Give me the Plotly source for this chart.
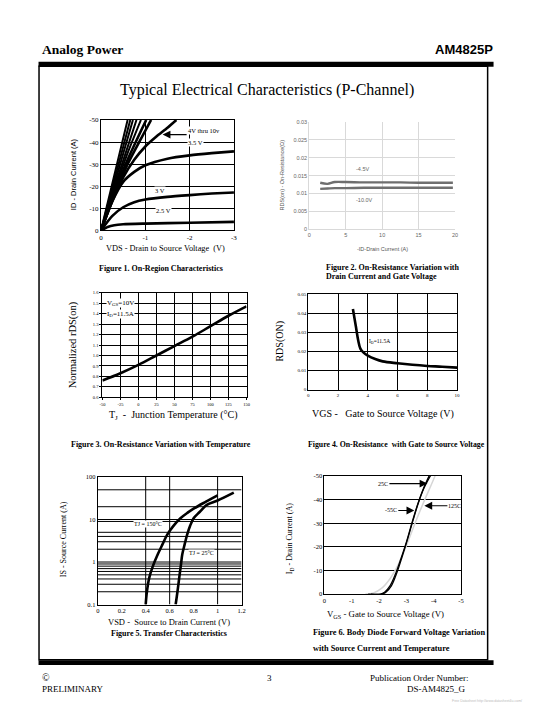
import plotly.graph_objects as go
import numpy as np

W, H = 540, 720
SERIF = "Liberation Serif"
SANS = "Liberation Sans"

# ---------------- DATA ----------------
# Fig 1: On-region characteristics (VDS in V, ID in A) per VGS
f1_curves = {
    "10V": ([0, -0.3, -0.6], [0, -25, -50]),
    "9V": ([0, -0.33, -0.66], [0, -25, -50]),
    "8V": ([0, -0.36, -0.72], [0, -25, -50]),
    "7V": ([0, -0.4, -0.8], [0, -25.5, -50]),
    "6V": ([0, -0.3, -0.6, -0.9], [0, -18, -35, -50]),
    "5V": ([0, -0.3, -0.6, -0.9, -1.02], [0, -17, -32, -45, -50]),
    "4.5V": ([0, -0.3, -0.6, -0.9, -1.13], [0, -16, -30, -41.5, -50]),
    "4V": ([0, -0.25, -0.5, -0.75, -1.0, -1.25, -1.5, -1.7], [0, -13, -24, -32, -38, -42.5, -46.5, -50]),
    "3.5V": ([0, -0.25, -0.5, -0.75, -1.0, -1.5, -2.0, -2.5, -3.0], [0, -13, -22, -26.5, -29.5, -32.5, -34, -35, -35.8]),
    "3V": ([0, -0.25, -0.5, -0.75, -1.0, -1.5, -2.0, -2.5, -3.0], [0, -6.5, -10.5, -12.8, -14, -15.2, -16, -16.7, -17.2]),
    "2.5V": ([0, -0.15, -0.3, -0.5, -1.0, -2.0, -3.0], [0, -1.6, -2.4, -2.8, -3.1, -3.5, -3.9]),
}
f1_xticks = [0, -1, -2, -3]
f1_xtext = ["0", "-1", "-2", "-3"]
f1_yticks = [0, -10, -20, -30, -40, -50]
f1_ytext = ["0", "-10", "-20", "-30", "-40", "-50"]

# Fig 2: RDS(on) vs -ID
f2_id = [1.5, 2.5, 3.5, 5, 7.5, 10, 12.5, 15, 17.5, 19.7]
f2_r45 = [0.0130, 0.0127, 0.0132, 0.0132, 0.0131, 0.0131, 0.0131, 0.0130, 0.0130, 0.0130]
f2_r10 = [0.0113, 0.0114, 0.0115, 0.0115, 0.0116, 0.0116, 0.0116, 0.0116, 0.0116, 0.0116]
f2_xticks = [0, 5, 10, 15, 20]
f2_yticks = [0, 0.005, 0.01, 0.015, 0.02, 0.025, 0.03]
f2_ytext = ["0", "0.005", "0.01", "0.015", "0.02", "0.025", "0.03"]

# Fig 3: normalized rDS(on) vs TJ
f3_t = [-50, -25, 0, 25, 50, 75, 100, 125, 150]
f3_r = [0.76, 0.83, 0.91, 1.0, 1.09, 1.18, 1.28, 1.38, 1.47]
f3_xticks = [-50, -25, 0, 25, 50, 75, 100, 125, 150]
f3_yticks = [0.6, 0.7, 0.8, 0.9, 1.0, 1.1, 1.2, 1.3, 1.4, 1.5, 1.6]

# Fig 4: RDS(ON) vs VGS
f4_vgs = [3.0, 3.2, 3.35, 3.5, 3.7, 4.0, 4.5, 5.0, 6.0, 7.0, 8.0, 9.0, 10.0]
f4_r = [0.0422, 0.033, 0.026, 0.0215, 0.0195, 0.0178, 0.0160, 0.0148, 0.0138, 0.0130, 0.0124, 0.0120, 0.0115]
f4_xticks = [0, 2, 4, 6, 8, 10]
f4_yticks = [0, 0.01, 0.02, 0.03, 0.04, 0.05]

# Fig 5: IS vs VSD (log)
f5_v150 = [0.40, 0.41, 0.43, 0.46, 0.50, 0.54, 0.58, 0.63, 0.69, 0.75, 0.80, 0.90, 1.0]
f5_i150 = [0.1, 0.2, 0.43, 0.8, 1.5, 2.6, 4.4, 7.0, 10.7, 14.5, 18, 26, 37]
f5_v25 = [0.65, 0.665, 0.68, 0.695, 0.705, 0.725, 0.746, 0.77, 0.80, 0.85, 0.91, 1.0, 1.135]
f5_i25 = [0.1, 0.2, 0.43, 0.9, 1.5, 2.6, 4.4, 7.0, 10.7, 15, 22, 28, 43]
f5_vgrid = [0.4, 0.6, 1.0]
f5_hgrid = [0.2, 0.3, 0.4, 0.5, 0.6, 0.7, 0.8, 0.9, 1, 2, 3, 4, 5, 9, 10, 20, 50]
f5_xticks = [0, 0.2, 0.4, 0.6, 0.8, 1.0, 1.2]
f5_xtext = ["0", "0.2", "0.4", "0.6", "0.8", "1", "1.2"]
f5_yticks = [0.1, 1, 10, 100]
f5_ytext = ["0.1", "1", "10", "100"]

# Fig 6: ID vs VGS
f6_v25 = [-1.6, -2.05, -2.2, -2.4, -2.6, -2.8, -3.0, -3.2, -3.4, -3.6, -3.85]
f6_i25 = [0, 0, -0.8, -3.5, -8.5, -15, -22, -30, -37.5, -44, -50.5]
f6_vm55 = [-1.7, -2.1, -2.25, -2.45, -2.65, -2.85, -3.05, -3.25, -3.45, -3.65, -3.9]
f6_im55 = [0, 0, -0.8, -3.5, -9, -16, -23.5, -31.5, -39, -45, -50.5]
f6_v125 = [-1.5, -1.8, -2.1, -2.4, -2.7, -3.0, -3.3, -3.6, -3.9, -4.05]
f6_i125 = [0, -0.5, -2.5, -6.5, -12.5, -20.5, -29.5, -38, -46, -50]
f6_xticks = [0, -1, -2, -3, -4, -5]
f6_xtext = ["0", "-1", "-2", "-3", "-4", "-5"]
f6_yticks = [0, -10, -20, -30, -40, -50]
f6_ytext = ["0", "-10", "-20", "-30", "-40", "-50"]

# ---------------- HELPERS ----------------
def px(x):
    return x / W

def py(y):
    return 1 - y / H

def dom(x0, x1, y0, y1):
    return [px(x0), px(x1)], [py(y1), py(y0)]

fig = go.Figure()
annots = []
shapes = []

def txt(x, y, s, size=8, font=SERIF, color="black", xanchor="center", yanchor="middle", angle=0, bg=None, bold=False):
    d = dict(x=px(x), y=py(y), xref="paper", yref="paper", text=("<b>%s</b>" % s if bold else s),
             showarrow=False, xanchor=xanchor, yanchor=yanchor, textangle=angle,
             font=dict(family=font, size=size, color=color), borderpad=0)
    if bg:
        d["bgcolor"] = bg
    annots.append(d)

def arrow_label(x, y, xr, yr, s, ax, ay=0, size=6, xanchor="center", yanchor="middle", bg=None):
    d = dict(x=x, y=y, xref=xr, yref=yr, text=s, showarrow=True, ax=ax, ay=ay,
             xanchor=xanchor, yanchor=yanchor, arrowhead=2, arrowsize=1.3, arrowwidth=1.2,
             arrowcolor="black", standoff=0, startstandoff=0, borderpad=0,
             font=dict(family=SERIF, size=size, color="black"))
    if bg:
        d["bgcolor"] = bg
    annots.append(d)

def axis(domain, rng, tickvals, ticktext=None, size=7, font=SERIF, grid=True, gridcolor="black",
         line=True, linecolor="black", mirror=True, anchor=None, typ="linear", tickcolor="black", ticklen=0):
    d = dict(domain=domain, range=rng, tickvals=tickvals, showgrid=grid, gridcolor=gridcolor, gridwidth=1,
             zeroline=False, showline=line, linecolor=linecolor, linewidth=1, mirror=mirror,
             tickfont=dict(family=font, size=size, color=tickcolor), ticks="outside" if ticklen else "",
             ticklen=ticklen, tickcolor=linecolor, fixedrange=True, type=typ, anchor=anchor)
    if ticktext is not None:
        d["ticktext"] = ticktext
    return d

CAP = 8

# ---------------- FIG 1 ----------------
xd, yd = dom(99.3, 234, 117.3, 229)
lay = {}
lay["xaxis"] = axis(xd, [0, -3], f1_xticks, f1_xtext, anchor="y")
lay["yaxis"] = axis(yd, [0, -50], f1_yticks, f1_ytext, anchor="x")
for name, (xs, ys) in f1_curves.items():
    wd = 2.0 if name in ("10V", "9V", "8V", "7V", "6V") else 2.6
    fig.add_trace(go.Scatter(x=xs, y=ys, mode="lines", line=dict(color="black", width=wd, shape="spline", smoothing=0.6),
                             xaxis="x", yaxis="y", showlegend=False, cliponaxis=True))
arrow_label(-1.39, -43.4, "x", "y", "4V thru 10v", ax=24, size=6.5, xanchor="left", yanchor="bottom", bg="white")
txt(186, 140, "3.5 V", size=6.5, xanchor="left", bg="white")
txt(159, 188.5, "3 V", size=6.5, bg="white")
txt(163, 209, "2.5 V", size=6.5, bg="white")
txt(71, 172, "ID - Drain Current (A)", size=7.5, font=SANS, angle=-90)
txt(165, 247, "VDS - Drain to Source Voltage  (V)", size=8.3)
txt(160, 267, "Figure 1. On-Region Characteristics", size=CAP, bold=True)

# ---------------- FIG 2 ----------------
xd, yd = dom(310.3, 458, 119, 228)
G = "#d9d9d9"
lay["xaxis2"] = axis(xd, [0, 20], f2_xticks, [str(v) for v in f2_xticks], size=5.5, font=SANS, gridcolor=G,
                     linecolor=G, mirror=False, anchor="y2", tickcolor="#666666")
lay["yaxis2"] = axis(yd, [0, 0.03], f2_yticks, f2_ytext, size=5.5, font=SANS, gridcolor=G,
                     linecolor=G, mirror=False, anchor="x2", tickcolor="#666666")
for ys in (f2_r45, f2_r10):
    fig.add_trace(go.Scatter(x=f2_id, y=ys, mode="lines", line=dict(color="#6e6e6e", width=2.4, shape="spline"),
                             xaxis="x2", yaxis="y2", showlegend=False))
txt(364, 166.5, "-4.5V", size=5.5, font=SANS, color="#666666")
txt(366, 198, "-10.0V", size=5.5, font=SANS, color="#666666")
txt(283, 173, "RDS(on) - On-Resistance(\u03a9)", size=5.5, font=SANS, color="#555555", angle=-90)
txt(384, 248, "-ID-Drain Current (A)", size=5.5, font=SANS, color="#555555")
txt(326, 266, "Figure 2. On-Resistance Variation with", size=CAP, bold=True, xanchor="left")
txt(326, 275.5, "Drain Current and Gate Voltage", size=CAP, bold=True, xanchor="left")

# ---------------- FIG 3 ----------------
xd, yd = dom(100.7, 246.7, 292, 397.7)
lay["xaxis3"] = axis(xd, [-50, 150], f3_xticks, [str(v) for v in f3_xticks], size=4.5, anchor="y3", ticklen=2)
lay["yaxis3"] = axis(yd, [0.6, 1.6], f3_yticks, ["%.1f" % v for v in f3_yticks], size=4.5, anchor="x3", ticklen=2)
fig.add_trace(go.Scatter(x=f3_t, y=f3_r, mode="lines", line=dict(color="black", width=2.6, shape="spline"),
                         xaxis="x3", yaxis="y3", showlegend=False))
txt(104, 302.5, "V<sub>GS</sub>=10V", size=7, xanchor="left", bg="white")
txt(104, 313, "I<sub>D</sub>=11.5A", size=7, xanchor="left", bg="white")
txt(71, 345, "Normalized rDS(on)", size=10.5, angle=-90)
txt(173, 416, "T<sub>J</sub>  -  Junction Temperature (\u00b0C)", size=10)
txt(160, 445, "Figure 3. On-Resistance Variation with Temperature", size=CAP, bold=True)

# ---------------- FIG 4 ----------------
xd, yd = dom(309.3, 460, 293.3, 390)
lay["xaxis4"] = axis(xd, [0, 10], f4_xticks, [str(v) for v in f4_xticks], size=5, anchor="y4")
lay["yaxis4"] = axis(yd, [0, 0.05], f4_yticks, ["0", "0.01", "0.02", "0.03", "0.04", "0.05"], size=5, anchor="x4")
fig.add_trace(go.Scatter(x=f4_vgs, y=f4_r, mode="lines", line=dict(color="black", width=2.6, shape="spline"),
                         xaxis="x4", yaxis="y4", showlegend=False))
txt(381, 341, "I<sub>D</sub>=11.5A", size=5.5)
txt(281, 341, "RDS(ON)", size=10, angle=-90)
txt(385, 415, "VGS -   Gate to Source Voltage (V)", size=10)
txt(399, 445, "Figure 4. On-Resistance  with Gate to Source Voltage", size=7.8, bold=True)

# ---------------- FIG 5 ----------------
xd, yd = dom(96, 241.7, 478.3, 607.3)
lay["xaxis5"] = axis(xd, [0, 1.2], f5_xticks, f5_xtext, size=6.5, grid=False, anchor="y5")
lay["yaxis5"] = axis(yd, [-1, 2], f5_yticks, f5_ytext, size=6.5, grid=False, anchor="x5", typ="log")
gx, gy = [], []
for v in f5_hgrid:
    gx += [0, 1.2, None]
    gy += [v, v, None]
for v in f5_vgrid:
    gx += [v, v, None]
    gy += [0.1, 100, None]
fig.add_trace(go.Scatter(x=gx, y=gy, mode="lines", line=dict(color="black", width=1),
                         xaxis="x5", yaxis="y5", showlegend=False, hoverinfo="skip"))
for xs, ys in ((f5_v150, f5_i150), (f5_v25, f5_i25)):
    fig.add_trace(go.Scatter(x=xs, y=ys, mode="lines", line=dict(color="black", width=2.6, shape="spline"),
                             xaxis="x5", yaxis="y5", showlegend=False))
txt(147, 526, "TJ = 150\u00b0C", size=6, bg="white")
txt(201, 555, "TJ = 25\u00b0C", size=6, bg="white")
txt(62, 541, "IS - Source Current (A)", size=8, angle=-90)
txt(168, 625, "VSD -  Source to Drain Current (V)", size=8.5)
txt(168, 637, "Figure 5. Transfer Characteristics", size=CAP, bold=True)

# ---------------- FIG 6 ----------------
xd, yd = dom(325.7, 464, 477.3, 596.7)
lay["xaxis6"] = axis(xd, [0, -5], f6_xticks, f6_xtext, size=6.5, grid=False, anchor="y6")
lay["yaxis6"] = axis(yd, [0, -50], f6_yticks, f6_ytext, size=6.5, anchor="x6")
fig.add_trace(go.Scatter(x=f6_v125, y=f6_i125, mode="lines", line=dict(color="#d6d6d6", width=1.5, shape="spline"),
                         xaxis="x6", yaxis="y6", showlegend=False))
for xs, ys in ((f6_v25, f6_i25), (f6_vm55, f6_im55)):
    fig.add_trace(go.Scatter(x=xs, y=ys, mode="lines", line=dict(color="black", width=1.3, shape="spline"),
                             xaxis="x6", yaxis="y6", showlegend=False))
arrow_label(-3.77, -46.8, "x6", "y6", "25C", ax=-38, xanchor="right")
arrow_label(-3.29, -35.4, "x6", "y6", "-55C", ax=-16, xanchor="right")
arrow_label(-3.66, -37.4, "x6", "y6", "125C", ax=23, xanchor="left")
txt(291, 541, "I<sub>D</sub> - Drain Current (A)", size=8, angle=-90)
txt(388, 617, "V<sub>GS</sub> - Gate to Source Voltage (V)", size=8.8)
txt(313, 636, "Figure 6. Body Diode Forward Voltage Variation", size=8.3, bold=True, xanchor="left")
txt(313, 652, "with Source Current and Temperature", size=8.3, bold=True, xanchor="left")

# ---------------- PAGE ----------------
txt(38, 46, "Analog Power", size=13.5, bold=True, xanchor="left")
txt(497, 46, "AM4825P", size=13, font=SANS, bold=True, xanchor="right")
txt(267, 87, "Typical Electrical Characteristics (P-Channel)", size=16)
txt(38, 681, "\u00a9", size=10, xanchor="left")
txt(38, 693, "PRELIMINARY", size=9, xanchor="left")
txt(270, 682, "3", size=9)
txt(472, 682, "Publication Order Number:", size=9, xanchor="right")
txt(470, 693, "DS-AM4825_G", size=9, xanchor="right")
txt(527, 705, "Free Datasheet http://www.datasheet4u.com/", size=3.5, font=SANS, color="#bbbbbb", xanchor="right")

shapes.append(dict(type="rect", xref="paper", yref="paper", x0=px(36), x1=px(497), y0=py(63.5), y1=py(58.5),
                   fillcolor="black", line=dict(width=0)))
shapes.append(dict(type="rect", xref="paper", yref="paper", x0=px(36.5), x1=px(491), y0=py(663), y1=py(63),
                   fillcolor="rgba(0,0,0,0)", line=dict(color="black", width=1.5)))
shapes.append(dict(type="rect", xref="paper", yref="paper", x0=px(36), x1=px(497), y0=py(668.5), y1=py(663.5),
                   fillcolor="black", line=dict(width=0)))

fig.update_layout(width=W, height=H, margin=dict(l=0, r=0, t=0, b=0), paper_bgcolor="white",
                  plot_bgcolor="white", showlegend=False, annotations=annots, shapes=shapes, **lay)
fig.write_html("out.html", config={"displayModeBar": False},
               post_script="document.body.style.margin='0px';document.body.style.overflow='hidden';")
